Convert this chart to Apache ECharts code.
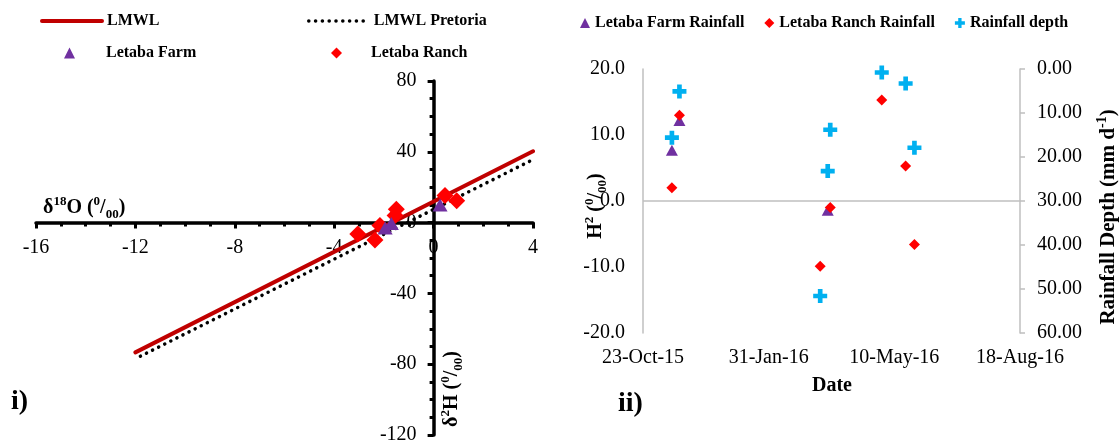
<!DOCTYPE html>
<html>
<head>
<meta charset="utf-8">
<script src="https://cdn.jsdelivr.net/npm/echarts@6/dist/echarts.min.js"></script>
<style>
  html, body { margin: 0; padding: 0; background: #fff; }
  #chart { width: 1120px; height: 444px; }
</style>
</head>
<body>
<div id="chart"></div>
<script>
// panel i) local meteoric water lines (end points) and samples
const lmwlO = [-12, 4];
const lmwlH = [-73.3, 40.3];
const pretoriaO = [-11.8, 4];
const pretoriaH = [-75.5, 35.6];

const farmO = [-1.95, -1.7, 0.26];
const farmH = [-3.0, -0.5, 10.0];
const ranchO = [-3.05, -2.36, -2.16, -1.55, -1.5, 0.46, 0.93];
const ranchH = [-6.4, -9.8, -1.7, 4.0, 7.5, 15.3, 12.4];

// panel ii) rainfall isotopes and depth through time
const farmRainDates = ['2015-11-15', '2015-11-21', '2016-03-18'];
const farmRainH = [7.7, 12.2, -1.4];
const ranchRainDates = ['2015-11-15', '2015-11-21', '2016-03-12', '2016-03-20', '2016-04-30', '2016-05-19', '2016-05-26'];
const ranchRainH = [2.0, 13.0, -9.9, -1.0, 15.3, 5.3, -6.6];
const depthDates = ['2015-11-15', '2015-11-21', '2016-03-12', '2016-03-18', '2016-03-20', '2016-04-30', '2016-05-19', '2016-05-26'];
const depthMm = [15.6, 5.1, 51.6, 23.2, 13.8, 0.8, 3.3, 17.9];

const startDate = '2015-10-23';
const months = ['Jan', 'Feb', 'Mar', 'Apr', 'May', 'Jun', 'Jul', 'Aug', 'Sep', 'Oct', 'Nov', 'Dec'];
const DAY = 86400000;
const FONT = 'Liberation Serif';

function dayOf(s) {
  return (Date.parse(s) - Date.parse(startDate)) / DAY;
}
function pairs(xs, ys) {
  return xs.map((x, i) => [x, ys[i]]);
}
function datePairs(ds, ys) {
  return ds.map((d, i) => [dayOf(d), ys[i]]);
}
function fmtDate(v) {
  const d = new Date(Date.parse(startDate) + v * DAY);
  return d.getUTCDate() + '-' + months[d.getUTCMonth()] + '-' + String(d.getUTCFullYear()).slice(2);
}

// left grid box, the axes cross at zero inside it
const g0 = { left: 36, top: 81, width: 497, height: 354 };
const xOff = -(16 / 20) * g0.width;      // y axis moved to x = 0
const yOff = -(120 / 200) * g0.height;   // x axis moved to y = 0

const plusPath = 'path://M4,0H8V4H12V8H8V12H4V8H0V4H4Z';
const lmwlLine = { color: '#c00000', width: 4, cap: 'round' };
const pretoriaLine = { color: '#000', width: 3.5, type: [0.1, 6.7], cap: 'round' };

function richTitle(size) {
  const s = Math.round(size * 0.65);
  return {
    b: { fontFamily: FONT, fontSize: size, fontWeight: 'bold', fill: '#000', lineHeight: size + 6, verticalAlign: 'middle' },
    sup: { fontFamily: FONT, fontSize: s, fontWeight: 'bold', fill: '#000', verticalAlign: 'top' },
    sub: { fontFamily: FONT, fontSize: s, fontWeight: 'bold', fill: '#000', verticalAlign: 'bottom' }
  };
}

const chart = echarts.init(document.getElementById('chart'), null, { renderer: 'canvas' });

const legendText = { fontFamily: FONT, fontSize: 16, fontWeight: 'bold', color: '#000' };
const tickText = { fontFamily: FONT, fontSize: 20, color: '#000' };

const option = {
  backgroundColor: '#fff',
  animation: false,
  legend: [
    { data: ['LMWL'], left: 40, top: 13, padding: 0, itemWidth: 60, itemHeight: 14,
      itemStyle: { opacity: 0 }, lineStyle: lmwlLine, textStyle: legendText },
    { data: ['LMWL Pretoria'], left: 307, top: 13, padding: 0, itemWidth: 60, itemHeight: 14,
      itemStyle: { opacity: 0 }, lineStyle: pretoriaLine, textStyle: legendText },
    { data: ['Letaba Farm'], left: 64, top: 45, padding: 0, itemWidth: 11, itemHeight: 11,
      textStyle: Object.assign({ padding: [0, 0, 0, 26] }, legendText) },
    { data: ['Letaba Ranch'], left: 331, top: 45, padding: 0, itemWidth: 11, itemHeight: 11,
      textStyle: Object.assign({ padding: [0, 0, 0, 24] }, legendText) },
    { data: ['Letaba Farm Rainfall', 'Letaba Ranch Rainfall', 'Rainfall depth'], left: 580, top: 15, padding: 0,
      itemWidth: 10, itemHeight: 10, itemGap: 20, textStyle: legendText }
  ],
  grid: [
    Object.assign({ outerBoundsMode: 'none', containLabel: false }, g0),
    { left: 643, width: 377, top: 69, height: 264, outerBoundsMode: 'none', containLabel: false }
  ],
  xAxis: [
    {
      gridIndex: 0, type: 'value', min: -16, max: 4, interval: 4, position: 'bottom', offset: yOff,
      axisLine: { onZero: false, lineStyle: { color: '#000', width: 3.5 } },
      axisTick: { show: true, length: 6, lineStyle: { color: '#000', width: 3 } },
      minorTick: { show: true, splitNumber: 4, length: 4, lineStyle: { color: '#000', width: 3 } },
      axisLabel: Object.assign({ margin: 15 }, tickText),
      splitLine: { show: false }
    },
    {
      gridIndex: 1, type: 'value', min: 0, max: 300, interval: 100,
      axisLine: { show: false },
      axisTick: { show: false },
      axisLabel: Object.assign({ margin: 15, formatter: fmtDate }, tickText),
      splitLine: { show: false }
    }
  ],
  yAxis: [
    {
      gridIndex: 0, type: 'value', min: -120, max: 80, interval: 40, position: 'left', offset: xOff,
      axisLine: { onZero: false, lineStyle: { color: '#000', width: 3.5 } },
      axisTick: { show: true, length: 6, lineStyle: { color: '#000', width: 3 } },
      minorTick: { show: true, splitNumber: 4, length: 4, lineStyle: { color: '#000', width: 3 } },
      axisLabel: Object.assign({ margin: 17 }, tickText),
      splitLine: { show: false }
    },
    {
      gridIndex: 1, type: 'value', min: -20, max: 20, interval: 10, position: 'left',
      axisLine: { show: true, onZero: false, lineStyle: { color: '#bfbfbf', width: 1.5 } },
      axisTick: { show: false },
      axisLabel: Object.assign({ margin: 18, formatter: v => v.toFixed(1) }, tickText),
      splitLine: { show: false }
    },
    {
      gridIndex: 1, type: 'value', min: 0, max: 60, interval: 10, position: 'right', inverse: true,
      axisLine: { show: true, onZero: false, lineStyle: { color: '#bfbfbf', width: 1.5 } },
      axisTick: { show: true, length: 5, lineStyle: { color: '#bfbfbf', width: 1.5 } },
      axisLabel: Object.assign({ margin: 17, formatter: v => v.toFixed(2) }, tickText),
      splitLine: { show: false }
    }
  ],
  series: [
    {
      name: 'LMWL', type: 'line', xAxisIndex: 0, yAxisIndex: 0,
      data: pairs(lmwlO, lmwlH), symbol: 'none',
      lineStyle: lmwlLine, itemStyle: { color: '#c00000' }, z: 3
    },
    {
      name: 'LMWL Pretoria', type: 'line', xAxisIndex: 0, yAxisIndex: 0,
      data: pairs(pretoriaO, pretoriaH), symbol: 'none',
      lineStyle: pretoriaLine, itemStyle: { color: '#000' }, z: 2
    },
    {
      name: 'Letaba Ranch', type: 'scatter', xAxisIndex: 0, yAxisIndex: 0,
      data: pairs(ranchO, ranchH), symbol: 'diamond', symbolSize: 17,
      itemStyle: { color: '#ff0000', opacity: 1 }, z: 4
    },
    {
      name: 'Letaba Farm', type: 'scatter', xAxisIndex: 0, yAxisIndex: 0,
      data: pairs(farmO, farmH), symbol: 'triangle', symbolSize: [15, 13],
      itemStyle: { color: '#7030a0', opacity: 1 }, z: 5
    },
    {
      name: 'Letaba Farm Rainfall', type: 'scatter', xAxisIndex: 1, yAxisIndex: 1,
      data: datePairs(farmRainDates, farmRainH), symbol: 'triangle', symbolSize: [12, 11],
      itemStyle: { color: '#7030a0', opacity: 1 }, z: 3,
      markLine: {
        silent: true, symbol: 'none', label: { show: false },
        lineStyle: { color: '#bfbfbf', width: 1.5, type: 'solid' },
        data: [{ yAxis: 0 }]
      }
    },
    {
      name: 'Letaba Ranch Rainfall', type: 'scatter', xAxisIndex: 1, yAxisIndex: 1,
      data: datePairs(ranchRainDates, ranchRainH), symbol: 'diamond', symbolSize: 11,
      itemStyle: { color: '#ff0000', opacity: 1 }, z: 4
    },
    {
      name: 'Rainfall depth', type: 'scatter', xAxisIndex: 1, yAxisIndex: 2,
      data: datePairs(depthDates, depthMm), symbol: plusPath, symbolSize: 14,
      itemStyle: { color: '#00b0f0', opacity: 1 }, z: 5
    }
  ],
  graphic: [
    { type: 'text', x: 43, y: 208, style: { text: '{b|δ}{sup|18}{b|O (}{sup|0}{b|/}{sub|00}{b|)}', rich: richTitle(20), verticalAlign: 'middle' } },
    { type: 'text', x: 452, y: 389, rotation: Math.PI / 2,
      style: { text: '{b|δ}{sup|2}{b|H (}{sup|0}{b|/}{sub|00}{b|)}', rich: richTitle(20), align: 'center', verticalAlign: 'middle' } },
    { type: 'text', x: 596, y: 206, rotation: Math.PI / 2,
      style: { text: '{b|H}{sup|2}{b| (}{sup|0}{b|/}{sub|00}{b|)}', rich: richTitle(20), align: 'center', verticalAlign: 'middle' } },
    { type: 'text', x: 1109, y: 217, rotation: Math.PI / 2,
      style: { text: '{b|Rainfall Depth (mm d}{sup|-1}{b|)}', rich: richTitle(21), align: 'center', verticalAlign: 'middle' } },
    { type: 'text', x: 832, y: 386,
      style: { text: 'Date', fontFamily: FONT, fontSize: 20, fontWeight: 'bold', fill: '#000', align: 'center', verticalAlign: 'middle' } },
    { type: 'text', x: 11, y: 402,
      style: { text: 'i)', fontFamily: FONT, fontSize: 28, fontWeight: 'bold', fill: '#000', verticalAlign: 'middle' } },
    { type: 'text', x: 618, y: 404,
      style: { text: 'ii)', fontFamily: FONT, fontSize: 28, fontWeight: 'bold', fill: '#000', verticalAlign: 'middle' } }
  ]
};

chart.setOption(option);
</script>
</body>
</html>
